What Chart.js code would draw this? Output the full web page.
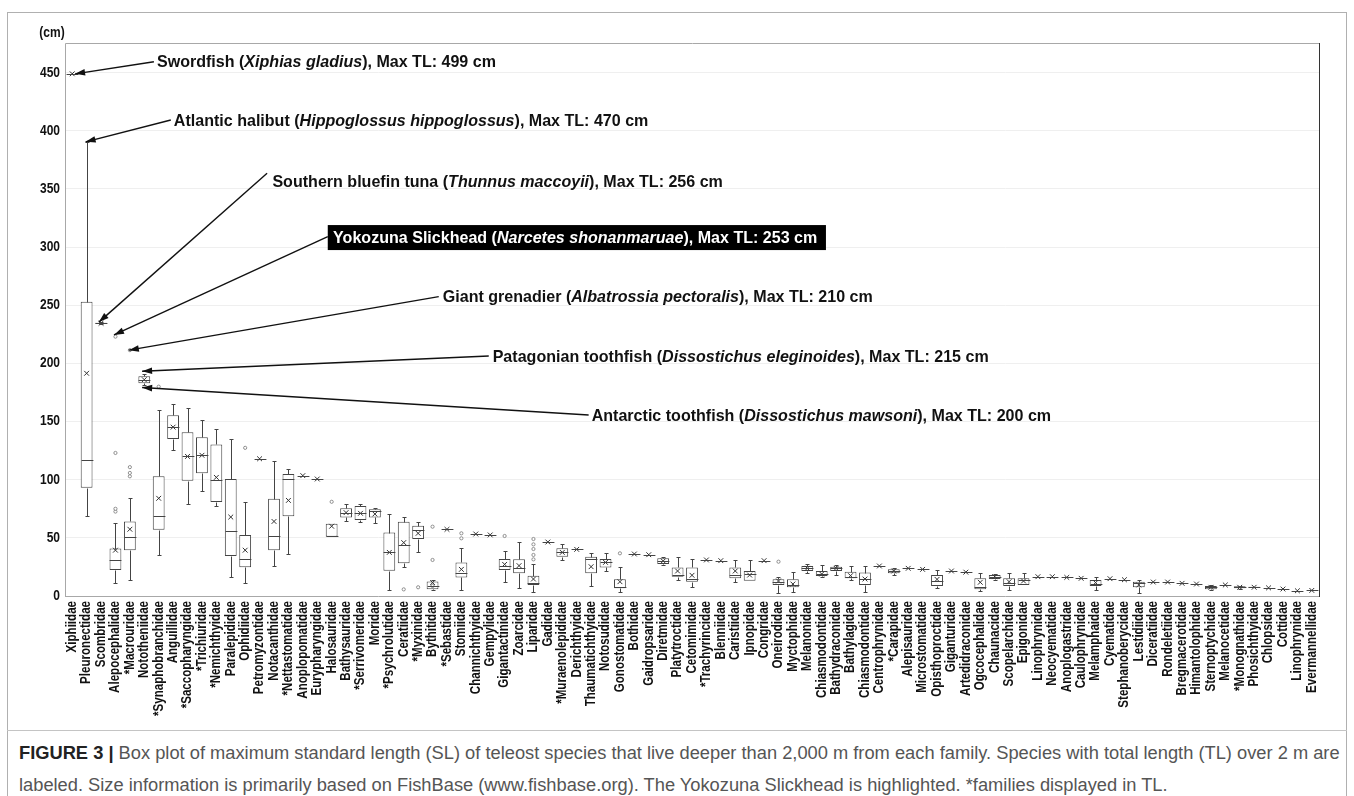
<!DOCTYPE html>
<html>
<head>
<meta charset="utf-8">
<script src="https://cdn.jsdelivr.net/npm/chart.js@4.4.1/dist/chart.umd.min.js"></script>
<style>
  html, body { margin: 0; padding: 0; background: #fff; }
  body { width: 1354px; height: 796px; position: relative; overflow: hidden; }
  #frame { position: absolute; left: 7px; top: 12px; width: 1340px; height: 820px; border: 1px solid #b0b0b0; box-sizing: border-box; }
  #sep { position: absolute; left: 7px; top: 730px; width: 1340px; height: 1px; background: #c4c4c4; }
  #chart { position: absolute; left: 0; top: 0; }
  #caption { position: absolute; left: 19px; top: 737px; width: 1330px; font-family: 'Liberation Sans', Arial, sans-serif;
             font-size: 18.3px; line-height: 32px; color: #555; white-space: nowrap; }
  #caption b { color: #222; }
</style>
</head>
<body>
<div id="frame"></div>
<div id="sep"></div>
<canvas id="chart" width="1354" height="730"></canvas>
<div id="caption"><b>FIGURE 3 |</b> Box plot of maximum standard length (SL) of teleost species that live deeper than 2,000 m from each family. Species with total length (TL) over 2 m are<br>labeled. Size information is primarily based on FishBase (www.fishbase.org). The Yokozuna Slickhead is highlighted. *families displayed in TL.</div>
<script>
const families = ['Xiphiidae', 'Pleuronectidae', 'Scombridae', 'Alepocephalidae', '*Macrouridae', 'Nototheniidae',
    '*Synaphobranchidae', 'Anguillidae', '*Saccopharyngidae', '*Trichiuridae', '*Nemichthyidae', 'Paralepididae',
    'Ophidiidae', 'Petromyzontidae', 'Notacanthidae', '*Nettastomatidae', 'Anoplopomatidae', 'Eurypharyngidae',
    'Halosauridae', 'Bathysauridae', '*Serrivomeridae', 'Moridae', '*Psychrolutidae', 'Ceratiidae', '*Myxinidae',
    'Bythitidae', '*Sebastidae', 'Stomiidae', 'Channichthyidae', 'Gempylidae', 'Gigantactinidae', 'Zoarcidae',
    'Liparidae', 'Gadidae', '*Muraenolepididae', 'Derichthyidae', 'Thaumatichthyidae', 'Notosudidae',
    'Gonostomatidae', 'Bothidae', 'Gaidropsaridae', 'Diretmidae', 'Platytroctidae', 'Cetomimidae',
    '*Trachyrincidae', 'Blenniidae', 'Caristiidae', 'Ipnopidae', 'Congridae', 'Oneirodidae', 'Myctophidae',
    'Melanonidae', 'Chiasmodontidae', 'Bathydraconidae', 'Bathylagidae', 'Chiasmodontidae', 'Centrophrynidae',
    '*Carapidae', 'Alepisauridae', 'Microstomatidae', 'Opisthoproctidae', 'Giganturidae', 'Artedidraconidae',
    'Ogcocephalidae', 'Chaunacidae', 'Scopelarchidae', 'Epigonidae', 'Linophrynidae', 'Neocyematidae',
    'Anoplogastridae', 'Caulophrynidae', 'Melamphaidae', 'Cyematidae', 'Stephanoberycidae', 'Lestidiidae',
    'Diceratiidae', 'Rondeletiidae', 'Bregmacerotidae', 'Himantolophidae', 'Sternoptychidae', 'Melanocetidae',
    '*Monognathidae', 'Phosichthyidae', 'Chlopsidae', 'Cottidae', 'Linophrynidae', 'Evermannellidae'];

// box statistics (cm), one value per family
const whiskerLow = [449, 69, 233.5, 11, 13.7, 181, 35.6, 125.4, 78.7, 90.4, 77.8, 16, 10.8, 118, 25.7, 36.4, 103.5, 100.6,
    51, 64.8, 63.3, 63, 5.2, 24.6, 38.1, 5.2, 57.3, 5.2, 53.3, 52.5, 12.3, 6.6, 3.2, 46.4, 31, 40.1, 8.6, 21.8,
    3.7, 36.1, 35.5, 27, 13.8, 7.5, 31, 30.4, 12.3, 13.2, 30.4, 2.3, 3.2, 19.5, 16.6, 18, 13.8, 3.7, 25.8,
    18, 23.8, 22.9, 6.6, 21.5, 20.5, 4.6, 13.8, 5.2, 9.5, 16.6, 16.6, 16, 15.2, 5.2, 14.9, 14, 2.3,
    12, 12, 10.9, 10.3, 5.2, 9.5, 6, 7, 7, 6, 4.5, 4.8];
const q1 = [449, 93, 234, 22.4, 39.4, 183, 56.9, 135, 99.1, 105.5, 80.8, 34.4, 24.8, 118, 39.4, 68.5, 103.5, 100.6,
    51, 67.6, 65.3, 67.6, 21.8, 28.1, 49, 5.7, 57.3, 16, 53.3, 52.5, 22.4, 19.5, 9.5, 46.4, 33.8, 40.1, 19.5, 24.6,
    6.6, 36.1, 35.5, 27.5, 16.6, 12.3, 31, 30.4, 15.2, 13.2, 30.4, 9.5, 7.5, 21.5, 17.2, 21.5, 15.2, 9.5, 25.8,
    19.5, 23.8, 22.9, 8.6, 21.5, 20.5, 5.7, 14.6, 8.6, 9.5, 16.6, 16.6, 16, 15.2, 8.6, 14.9, 14, 7.5,
    12, 12, 10.9, 10.3, 5.7, 9.5, 6.6, 7, 7, 6, 4.5, 4.8];
const median = [449, 117, 234.5, 31.2, 50.4, 186, 69.1, 145.2, 120.1, 121.6, 100, 56.3, 32.1, 118, 51.9, 100.6, 103.5, 100.6,
    51.6, 71.7, 71.7, 73.4, 37.5, 44, 56.7, 8.6, 57.3, 20, 53.3, 52.5, 25.8, 24.4, 11.5, 46.4, 38.1, 40.1, 31.5, 29.5,
    7.5, 36.1, 35.5, 30.1, 18, 14.3, 31, 30.4, 18, 18.9, 30.4, 12.3, 9.5, 23.8, 18.6, 23.8, 16.6, 14.6, 25.8,
    21.5, 23.8, 22.9, 13, 21.5, 20.5, 7.5, 16.6, 11.5, 13.8, 16.6, 16.6, 16, 15.2, 10.3, 14.9, 14, 10.9,
    12, 12, 10.9, 10.3, 7.5, 9.5, 7.5, 7.5, 7, 6, 4.5, 4.8];
const q3 = [449, 253, 235, 40.8, 64.1, 189, 102.9, 155.4, 140.8, 136.4, 130.3, 100.6, 52.5, 118, 83.7, 105, 103.5, 100.6,
    62.2, 75.4, 77.4, 74.5, 54.5, 63.9, 60.5, 12.5, 57.3, 28.9, 53.3, 52.5, 31.8, 31.5, 17.5, 46.4, 41, 40.1, 33.8, 31.8,
    14.3, 36.1, 35.5, 32.4, 24.6, 24.6, 31, 30.4, 24.6, 21.5, 30.4, 14.3, 14.3, 25.8, 21.5, 25.2, 20.9, 20.1, 25.8,
    22.9, 23.8, 22.9, 18, 21.5, 20.5, 15.2, 18, 15.2, 15.2, 16.6, 16.6, 16, 15.2, 13.8, 14.9, 14, 12.3,
    12, 12, 10.9, 10.3, 8.6, 9.5, 8.3, 8, 7, 6, 4.5, 4.8];
const whiskerHigh = [449, 390.5, 235.5, 62.7, 84.5, 190.5, 160.3, 165.3, 161.8, 151, 143.4, 135, 80.8, 118, 116, 109.3, 103.5, 100.6,
    62.2, 78.8, 78.8, 76, 70.2, 68.2, 63.9, 13.8, 57.3, 41.6, 53.3, 52.5, 39, 46.7, 27.5, 46.4, 44.7, 40.1, 36.7, 37.3,
    24.6, 36.1, 35.5, 33.5, 33.2, 31.8, 31, 30.4, 31, 31, 30.4, 16.6, 20.3, 27.5, 26.7, 26.7, 25.8, 25.8, 25.8,
    23.8, 23.8, 22.9, 22.4, 21.5, 20.5, 20, 18.9, 20, 20, 16.6, 16.6, 16, 15.2, 16, 14.9, 14, 13.8,
    12, 12, 10.9, 10.3, 9.5, 9.5, 8.6, 8, 7, 6, 4.5, 4.8];
const means = [449, 191.5, 234.5, 39.4, 57.4, 186, 84, 145.2, 120, 121, 102, 67.9, 39.4, 118, 64.1, 82.2, 103.5, 100.6,
    60, 71.7, 71.1, 70.5, 37.5, 45.9, 53.9, 11.5, 57.3, 22.9, 53.3, 52.5, 27.2, 26.1, 14.6, 46.4, 37.5, 40.1, 25.2, 28.9,
    12.3, 36.1, 35.5, 30.1, 21.5, 17.8, 31, 30.4, 21.5, 18, 30.4, 12.9, 10.3, 23.8, 18.9, 23.8, 17.5, 14.6, 25.8,
    21.5, 23.8, 22.9, 14.3, 21.5, 20.5, 11.8, 16.6, 12.3, 12.9, 16.6, 16.6, 16, 15.2, 11.5, 14.9, 14, 9.5,
    12, 12, 10.9, 10.3, 7.5, 9.5, 7.5, 7.5, 7, 6, 4.5, 4.8];

// outliers: family index and value (cm)
const outlierFamily = [3, 3, 3, 3, 4, 4, 4, 4, 6, 12, 18, 25, 25, 27, 27, 30, 32, 32, 32, 32, 32, 38, 49, 52, 52, 52];
const outlierValue = [72.6, 75, 123, 223, 102.9, 105.8, 110.8, 211.4, 180, 127.4, 81, 31, 59.6, 49.6, 53.9, 51.6,
    31.5, 35.3, 40.4, 44.4, 49, 36.7, 29.5, 5.7, 7.5, 8.6];

const yTicks = [0, 50, 100, 150, 200, 250, 300, 350, 400, 450];

// labelled species: arrow tip and label anchor in (family index, cm)
const callouts = [
    { parts: [['Swordfish (', 0], ['Xiphias gladius', 1], ['), Max TL: 499 cm', 0]], tip: [0.2, 449], from: [5.67, 459.4], text: [5.88, 459.4] },
    { parts: [['Atlantic halibut (', 0], ['Hippoglossus hippoglossus', 1], ['), Max TL: 470 cm', 0]], tip: [0.93, 390.5], from: [6.84, 409.3], text: [7.05, 409.3] },
    { parts: [['Southern bluefin tuna (', 0], ['Thunnus maccoyii', 1], ['), Max TL: 256 cm', 0]], tip: [1.85, 235.5], from: [13.52, 363.5], text: [13.89, 357] },
    { parts: [['Yokozuna Slickhead (', 0], ['Narcetes shonanmaruae', 1], ['), Max TL: 253 cm', 0]], tip: [2.9, 224.5], from: [17.73, 309], text: [18.1, 308.2], boxed: true },
    { parts: [['Giant grenadier (', 0], ['Albatrossia pectoralis', 1], ['), Max TL: 210 cm', 0]], tip: [3.93, 211.4], from: [25.43, 257.4], text: [25.71, 257.4] },
    { parts: [['Patagonian toothfish (', 0], ['Dissostichus eleginoides', 1], ['), Max TL: 215 cm', 0]], tip: [4.85, 193.3], from: [28.9, 206.4], text: [29.17, 206.4] },
    { parts: [['Antarctic toothfish (', 0], ['Dissostichus mawsoni', 1], ['), Max TL: 200 cm', 0]], tip: [4.85, 179.3], from: [35.83, 155.6], text: [36.04, 155.6] }
];

const SANS = "'Liberation Sans', Arial, sans-serif";

// condensed text: draw with a horizontal squeeze so it reads like a narrow face
function squeezed(ctx, text, x, y, k, align, rotate) {
    ctx.save();
    ctx.translate(x, y);
    if (rotate) ctx.rotate(-Math.PI / 2);
    ctx.scale(k, 1);
    ctx.textAlign = align;
    ctx.fillText(text, 0, 0);
    ctx.restore();
}

const boxExtras = {
    id: 'boxExtras',
    beforeDatasetsDraw(chart) {
        const { ctx, chartArea: a } = chart;
        ctx.save();
        ctx.lineWidth = 1;
        ctx.strokeStyle = '#a8a8a8';
        ctx.beginPath();
        ctx.moveTo(a.left + 0.5, a.bottom + 0.5);
        ctx.lineTo(a.left + 0.5, a.top + 0.5);
        ctx.lineTo(a.right + 0.5, a.top + 0.5);
        ctx.moveTo(a.left, a.bottom + 0.5);
        ctx.lineTo(a.right, a.bottom + 0.5);
        ctx.stroke();
        ctx.strokeStyle = '#333';
        ctx.beginPath();
        ctx.moveTo(a.right + 0.5, a.top);
        ctx.lineTo(a.right + 0.5, a.bottom + 1);
        ctx.stroke();
        ctx.restore();
    },
    // whiskers, caps and medians
    afterDatasetsDraw(chart) {
        const { ctx } = chart;
        const y = chart.scales.y;
        const bars = chart.getDatasetMeta(0).data;
        ctx.save();
        ctx.lineWidth = 1;
        ctx.strokeStyle = '#444';
        ctx.beginPath();
        families.forEach((f, i) => {
            const cx = Math.round(bars[i].x) + 0.5;
            const half = bars[i].width / 2;
            const px = v => Math.round(y.getPixelForValue(v)) + 0.5;
            if (whiskerHigh[i] > q3[i]) {
                ctx.moveTo(cx, px(q3[i])); ctx.lineTo(cx, px(whiskerHigh[i]));
                ctx.moveTo(cx - 2, px(whiskerHigh[i])); ctx.lineTo(cx + 2, px(whiskerHigh[i]));
            }
            if (whiskerLow[i] < q1[i]) {
                ctx.moveTo(cx, px(q1[i])); ctx.lineTo(cx, px(whiskerLow[i]));
                ctx.moveTo(cx - 2, px(whiskerLow[i])); ctx.lineTo(cx + 2, px(whiskerLow[i]));
            }
            ctx.moveTo(cx - half, px(median[i])); ctx.lineTo(cx + half, px(median[i]));
        });
        ctx.stroke();
        ctx.restore();
    },
    afterDraw(chart) {
        const { ctx, chartArea: a } = chart;
        const { x, y } = chart.scales;
        ctx.save();
        ctx.fillStyle = '#111';
        ctx.textBaseline = 'middle';

        // axis labels
        ctx.font = 'bold 14px ' + SANS;
        const kx = 115 / ctx.measureText('*Synaphobranchidae').width;
        families.forEach((f, i) => squeezed(ctx, f, x.getPixelForValue(i), a.bottom + 5, kx, 'right', true));
        ctx.font = 'bold 14px ' + SANS;
        const ky = 20 / ctx.measureText('450').width;
        yTicks.forEach(v => squeezed(ctx, String(v), a.left - 5, y.getPixelForValue(v), ky, 'right', false));
        squeezed(ctx, '(cm)', a.left - 13, a.top - 10, ky, 'center', false);

        // callouts
        const size = 17;
        const font = it => (it ? 'italic ' : '') + 'bold ' + size + 'px ' + SANS;
        const widthOf = parts => parts.reduce((s, [t, it]) => { ctx.font = font(it); return s + ctx.measureText(t).width; }, 0);
        const kt = 339 / widthOf(callouts[0].parts);
        callouts.forEach(c => {
            const tx = x.getPixelForValue(c.tip[0]), ty = y.getPixelForValue(c.tip[1]);
            const fx = x.getPixelForValue(c.from[0]), fy = y.getPixelForValue(c.from[1]);
            ctx.strokeStyle = '#111';
            ctx.fillStyle = '#111';
            ctx.lineWidth = 1.4;
            ctx.beginPath();
            ctx.moveTo(fx, fy);
            ctx.lineTo(tx, ty);
            ctx.stroke();
            const ang = Math.atan2(ty - fy, tx - fx);
            ctx.beginPath();
            ctx.moveTo(tx, ty);
            ctx.lineTo(tx - 10 * Math.cos(ang) + 3.3 * Math.sin(ang), ty - 10 * Math.sin(ang) - 3.3 * Math.cos(ang));
            ctx.lineTo(tx - 10 * Math.cos(ang) - 3.3 * Math.sin(ang), ty - 10 * Math.sin(ang) + 3.3 * Math.cos(ang));
            ctx.closePath();
            ctx.fill();

            let px = x.getPixelForValue(c.text[0]);
            const py = y.getPixelForValue(c.text[1]);
            if (c.boxed) {
                ctx.fillStyle = '#000';
                ctx.fillRect(fx, py - 12.5, widthOf(c.parts) * kt + 14, 25);
                ctx.fillStyle = '#fff';
            }
            c.parts.forEach(([t, it]) => {
                ctx.font = font(it);
                squeezed(ctx, t, px, py + 1, kt, 'left', false);
                px += ctx.measureText(t).width * kt;
            });
        });
        ctx.restore();
    }
};

new Chart(document.getElementById('chart'), {
    type: 'bar',
    data: {
        labels: families,
        datasets: [
            {
                type: 'bar',
                data: families.map((f, i) => [q1[i], q3[i]]),
                backgroundColor: '#fff',
                borderColor: '#444',
                borderWidth: 1,
                borderSkipped: false,
                barPercentage: 0.82,
                categoryPercentage: 1,
                order: 3
            },
            {
                type: 'scatter',
                data: means.map((v, i) => ({ x: families[i], y: v })),
                pointStyle: 'crossRot',
                radius: 3.4,
                borderColor: '#333',
                borderWidth: 1,
                order: 1
            },
            {
                type: 'scatter',
                data: outlierValue.map((v, k) => ({ x: families[outlierFamily[k]], y: v })),
                pointStyle: 'circle',
                radius: 1.6,
                backgroundColor: '#fff',
                borderColor: '#777',
                borderWidth: 0.8,
                order: 2
            }
        ]
    },
    options: {
        responsive: false,
        animation: false,
        layout: { padding: { top: 43, right: 35, left: 0, bottom: 0 } },
        plugins: { legend: { display: false }, tooltip: { enabled: false } },
        scales: {
            x: {
                type: 'category',
                grid: { display: false },
                border: { display: false },
                ticks: { display: false, autoSkip: false },
                afterFit: s => { s.height = 134; }
            },
            y: {
                min: 0,
                max: 475.5,
                grid: { color: '#efefef', drawTicks: false },
                border: { display: false },
                afterBuildTicks: s => { s.ticks = yTicks.map(v => ({ value: v })); },
                ticks: { display: false },
                afterFit: s => { s.width = 65; }
            }
        }
    },
    plugins: [boxExtras]
});
</script>
</body>
</html>
